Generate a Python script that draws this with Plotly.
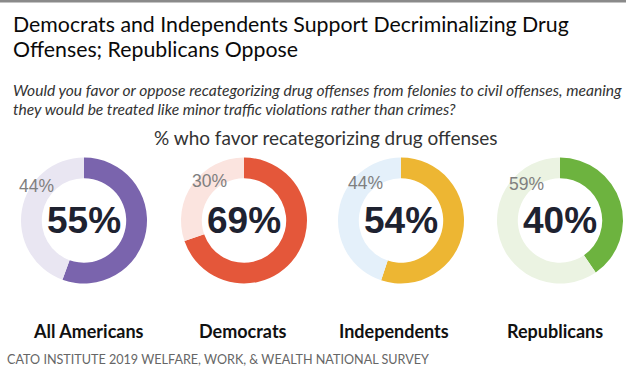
import plotly.graph_objects as go

W, H = 626, 367

groups = ["All Americans", "Democrats", "Independents", "Republicans"]
favor = [55, 69, 54, 40]
oppose = [44, 30, 44, 59]
strong_colors = ["#7A64AD", "#E4573A", "#EDB633", "#6DB33F"]
light_colors = ["#E9E6F2", "#FBE4DF", "#E4F0FA", "#EBF3E2"]

title_lines = ["Democrats and Independents Support Decriminalizing Drug",
               "Offenses; Republicans Oppose"]
subtitle_lines = ["Would you favor or oppose recategorizing drug offenses from felonies to civil offenses, meaning",
                  "they would be treated like minor traffic violations rather than crimes?"]
chart_heading = "% who favor recategorizing drug offenses"
footer = "CATO INSTITUTE 2019 WELFARE, WORK, & WEALTH NATIONAL SURVEY"

# layout (pixels)
cx = [84, 244, 401, 560]
cy = 220.5
R = 63
label_x = [88, 243, 394, 555]
small_dx = [-48, -35, -36, -34]
small_dy = [-35, -39, -38, -37]


def px(x):
    return x / W


def py(y):
    return 1 - y / H


fig = go.Figure()
for i, g in enumerate(groups):
    fig.add_trace(go.Pie(
        values=[favor[i], oppose[i]],
        labels=["Favor", "Oppose"],
        marker=dict(colors=[strong_colors[i], light_colors[i]], line=dict(width=0)),
        hole=0.67,
        sort=False,
        direction="clockwise",
        rotation=0,
        textinfo="none",
        showlegend=False,
        domain=dict(x=[px(cx[i] - R), px(cx[i] + R)], y=[py(cy + R), py(cy - R)]),
        name=g,
    ))

ann = []
for i, g in enumerate(groups):
    ann.append(dict(x=px(cx[i]), y=py(cy), text=f"{favor[i]}%", showarrow=False,
                    xanchor="center", yanchor="middle",
                    font=dict(family="Liberation Sans, Arial", size=37, color="#1E2230", weight="bold")))
    ann.append(dict(x=px(cx[i] + small_dx[i]), y=py(cy + small_dy[i]), text=f"{oppose[i]}%", showarrow=False,
                    xanchor="center", yanchor="middle",
                    font=dict(family="Liberation Sans, Arial", size=17.5, color="#7F7F7F")))
    ann.append(dict(x=px(label_x[i]), y=py(331), text=g, showarrow=False,
                    xanchor="center", yanchor="middle",
                    font=dict(family="Lato", size=18, color="#111111", weight="bold")))

title_y = [24, 49]
for t, y in zip(title_lines, title_y):
    ann.append(dict(x=px(11), y=py(y), text=t, showarrow=False, xanchor="left", yanchor="middle",
                    font=dict(family="Lato", size=21.3, color="#0A0A0A")))
sub_y = [90, 109]
for t, y in zip(subtitle_lines, sub_y):
    ann.append(dict(x=px(11), y=py(y), text=f"<i>{t}</i>", showarrow=False, xanchor="left", yanchor="middle",
                    font=dict(family="Lato", size=15.6, color="#333333")))
ann.append(dict(x=px(326), y=py(137), text=chart_heading, showarrow=False, xanchor="center", yanchor="middle",
                font=dict(family="Lato", size=19, color="#333333")))
ann.append(dict(x=px(5), y=py(359), text=footer, showarrow=False, xanchor="left", yanchor="middle",
                font=dict(family="Lato", size=12.6, color="#666666")))

for a in ann:
    a["xref"] = "paper"
    a["yref"] = "paper"

fig.update_layout(
    width=W, height=H,
    margin=dict(l=0, r=0, t=0, b=0),
    paper_bgcolor="white", plot_bgcolor="white",
    annotations=ann,
    shapes=[dict(type="line", xref="paper", yref="paper", x0=0, x1=1, y0=py(1), y1=py(1),
                 line=dict(color="#8A8A8A", width=3))],
)

fig.write_html("out.html")
